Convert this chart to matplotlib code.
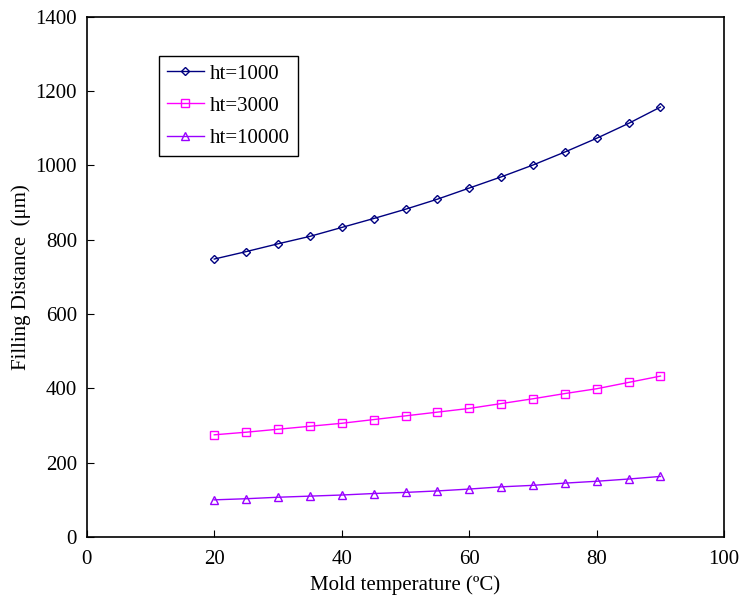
import matplotlib.pyplot as plt

# mold temperature (C)
temps = [20, 25, 30, 35, 40, 45, 50, 55, 60, 65, 70, 75, 80, 85, 90]

# filling distance (um) for each heat transfer coefficient
ht1000 = [748, 768, 789, 809, 833, 857, 882, 909, 939, 969, 1001, 1036, 1073, 1113, 1157]
ht3000 = [275, 282, 290, 298, 306, 316, 326, 336, 346, 359, 372, 386, 399, 416, 433]
ht10000 = [100, 103, 107, 110, 113, 117, 120, 124, 129, 135, 139, 145, 150, 156, 163]

plt.rcParams['font.family'] = ['Liberation Serif', 'DejaVu Serif']

fig = plt.figure(figsize=(7.42, 5.98), dpi=100)
ax = fig.add_axes([0.117, 0.102, 0.859, 0.870])

ax.plot(temps, ht1000, color='#000080', marker='D', markersize=4, markerfacecolor='none',
        markeredgewidth=1, linewidth=1, label='ht=1000')
ax.plot(temps, ht3000, color='#FF00FF', marker='s', markersize=6, markerfacecolor='none',
        markeredgewidth=1, linewidth=1, label='ht=3000')
ax.plot(temps, ht10000, color='#9900FF', marker='^', markersize=6, markerfacecolor='none',
        markeredgewidth=1, linewidth=1, label='ht=10000')

ax.set_xlim(0, 100)
ax.set_ylim(0, 1400)
ax.set_xticks(range(0, 101, 20))
ax.set_yticks(range(0, 1401, 200))
ax.tick_params(direction='in', labelsize=15, length=5)
ax.tick_params(axis='x', pad=9)
ax.tick_params(axis='y', pad=7)
for s in ax.spines.values():
    s.set_linewidth(1.2)

ax.set_xlabel('Mold temperature (ºC)', fontsize=15, labelpad=5)
ax.set_ylabel('Filling Distance  (μm)', fontsize=15, labelpad=3)

leg = ax.legend(loc='upper left', bbox_to_anchor=(0.113, 0.925), borderaxespad=0,
                fontsize=15, frameon=True, fancybox=False, edgecolor='black',
                framealpha=1, handlelength=1.75, handletextpad=0.3,
                borderpad=0.4, labelspacing=0.6)
leg.get_frame().set_linewidth(1)

fig.savefig('out.png', dpi=100)
